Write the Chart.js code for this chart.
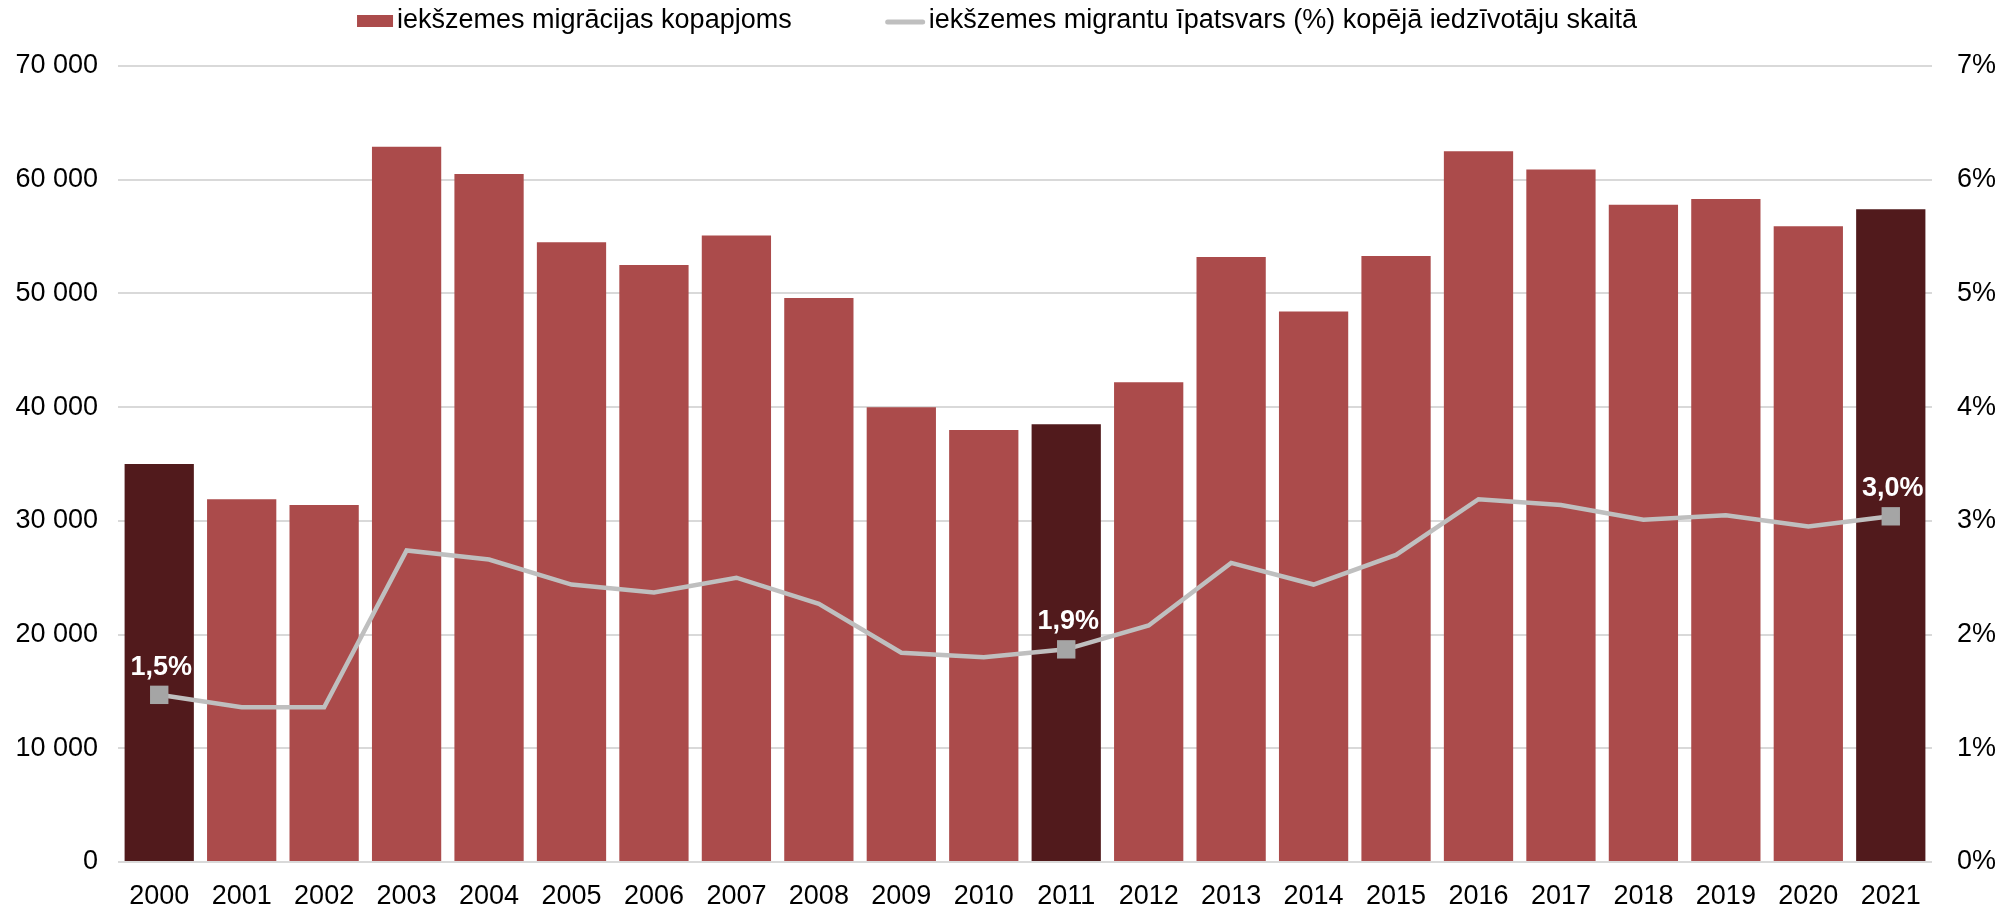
<!DOCTYPE html>
<html>
<head>
<meta charset="utf-8">
<script src="https://cdn.jsdelivr.net/npm/chart.js@4.4.0/dist/chart.umd.min.js"></script>
<style>
  html, body { margin: 0; padding: 0; background: #fff; }
  #wrap { width: 2010px; height: 911px; position: relative; }
</style>
</head>
<body>
<div id="wrap"><canvas id="chart"></canvas></div>
<script>
// --- dati ---
const years = ['2000', '2001', '2002', '2003', '2004', '2005', '2006', '2007', '2008', '2009', '2010',
               '2011', '2012', '2013', '2014', '2015', '2016', '2017', '2018', '2019', '2020', '2021'];
const migrationTotal = [35000, 31900, 31400, 62900, 60500, 54500, 52500, 55100, 49600, 40000, 38000,
                        38500, 42200, 53200, 48400, 53300, 62500, 60900, 57800, 58300, 55900, 57400];
const migrantShare = [1.47, 1.36, 1.36, 2.74, 2.66, 2.44, 2.37, 2.50, 2.27, 1.84, 1.80,
                      1.87, 2.08, 2.63, 2.44, 2.70, 3.19, 3.14, 3.01, 3.05, 2.95, 3.04];
const highlightYears = ['2000', '2011', '2021'];
const seriesNames = ['iekšzemes migrācijas kopapjoms', 'iekšzemes migrantu īpatsvars (%) kopējā iedzīvotāju skaitā'];
const leftTickLabels = ['0', '10 000', '20 000', '30 000', '40 000', '50 000', '60 000', '70 000'];
const rightTickLabels = ['0%', '1%', '2%', '3%', '4%', '5%', '6%', '7%'];

const FONT = '"Liberation Sans", Arial, sans-serif';
const FS = 27;
const BAR = '#AB4B4B';
const BAR_DARK = '#511A1C';
const LINE = '#BFBFBF';
const MARKER = '#A5A5A5';

const isHighlight = years.map(y => highlightYears.includes(y));

// leģenda augšā (zīmēta pašu spēkiem, lai atstarpes būtu kā oriģinālā)
const topLegend = {
  id: 'topLegend',
  afterDraw(chart) {
    const ctx = chart.ctx;
    ctx.save();
    ctx.font = FS + 'px ' + FONT;
    ctx.textBaseline = 'alphabetic';
    const w1 = ctx.measureText(seriesNames[0]).width;
    const w2 = ctx.measureText(seriesNames[1]).width;
    const gap = 94;
    const total = 36 + 4 + w1 + gap + 39 + 4 + w2;
    let x = chart.width / 2 - 8 - total / 2;
    const base = 28;
    ctx.fillStyle = BAR;
    ctx.fillRect(x, base - 13, 36, 12);
    x += 40;
    ctx.fillStyle = '#000';
    ctx.fillText(seriesNames[0], x, base);
    x += w1 + gap;
    ctx.strokeStyle = LINE;
    ctx.lineWidth = 5;
    ctx.lineCap = 'round';
    ctx.beginPath();
    ctx.moveTo(x + 2, base - 6);
    ctx.lineTo(x + 37, base - 6);
    ctx.stroke();
    x += 43;
    ctx.fillText(seriesNames[1], x, base);
    ctx.restore();
  }
};

// vērtību etiķetes izceltajiem gadiem
const shareLabels = {
  id: 'shareLabels',
  afterDatasetsDraw(chart) {
    const meta = chart.getDatasetMeta(0);
    const ctx = chart.ctx;
    ctx.save();
    ctx.font = 'bold ' + FS + 'px ' + FONT;
    ctx.fillStyle = '#fff';
    ctx.textAlign = 'center';
    ctx.textBaseline = 'alphabetic';
    meta.data.forEach((pt, i) => {
      if (!isHighlight[i]) return;
      const txt = migrantShare[i].toFixed(1).replace('.', ',') + '%';
      ctx.fillText(txt, pt.x + 2, pt.y - 20);
    });
    ctx.restore();
  }
};

const ctx = document.getElementById('chart').getContext('2d');

new Chart(ctx, {
  type: 'bar',
  data: {
    labels: years,
    datasets: [{
      type: 'line',
      label: seriesNames[1],
      data: migrantShare,
      yAxisID: 'y1',
      borderColor: LINE,
      borderWidth: 4.5,
      tension: 0,
      pointStyle: 'rect',
      pointRadius: isHighlight.map(h => h ? 13 : 0),
      pointHoverRadius: isHighlight.map(h => h ? 13 : 0),
      pointBackgroundColor: MARKER,
      pointBorderColor: MARKER,
      pointBorderWidth: 0,
      order: 0
    }, {
      type: 'bar',
      label: seriesNames[0],
      data: migrationTotal,
      yAxisID: 'y',
      backgroundColor: isHighlight.map(h => h ? BAR_DARK : BAR),
      borderWidth: 0,
      barPercentage: 0.84,
      categoryPercentage: 1.0,
      order: 1
    }]
  },
  options: {
    responsive: true,
    maintainAspectRatio: false,
    animation: false,
    devicePixelRatio: 1,
    layout: { padding: { top: 66, left: 0, right: 0, bottom: 0 } },
    plugins: {
      legend: { display: false },
      tooltip: { enabled: false }
    },
    scales: {
      x: {
        grid: { display: false, drawTicks: false },
        border: { display: false },
        afterFit: (scale) => { scale.height = 49; },
        ticks: {
          color: '#000',
          padding: 18,
          maxRotation: 0,
          autoSkip: false,
          font: { family: FONT, size: FS }
        }
      },
      y: {
        position: 'left',
        min: 0,
        max: 70000,
        grid: { color: '#D9D9D9', lineWidth: 2, drawTicks: false },
        border: { display: false },
        afterFit: (scale) => { scale.width = 118; },
        ticks: {
          stepSize: 10000,
          padding: 20,
          color: '#000',
          font: { family: FONT, size: FS },
          callback: (v) => leftTickLabels[Math.round(v / 10000)]
        }
      },
      y1: {
        position: 'right',
        min: 0,
        max: 7,
        grid: { display: false, drawTicks: false },
        border: { display: false },
        afterFit: (scale) => { scale.width = 78; },
        ticks: {
          stepSize: 1,
          padding: 25,
          color: '#000',
          font: { family: FONT, size: FS },
          callback: (v) => rightTickLabels[Math.round(v)]
        }
      }
    }
  },
  plugins: [topLegend, shareLabels]
});
</script>
</body>
</html>
